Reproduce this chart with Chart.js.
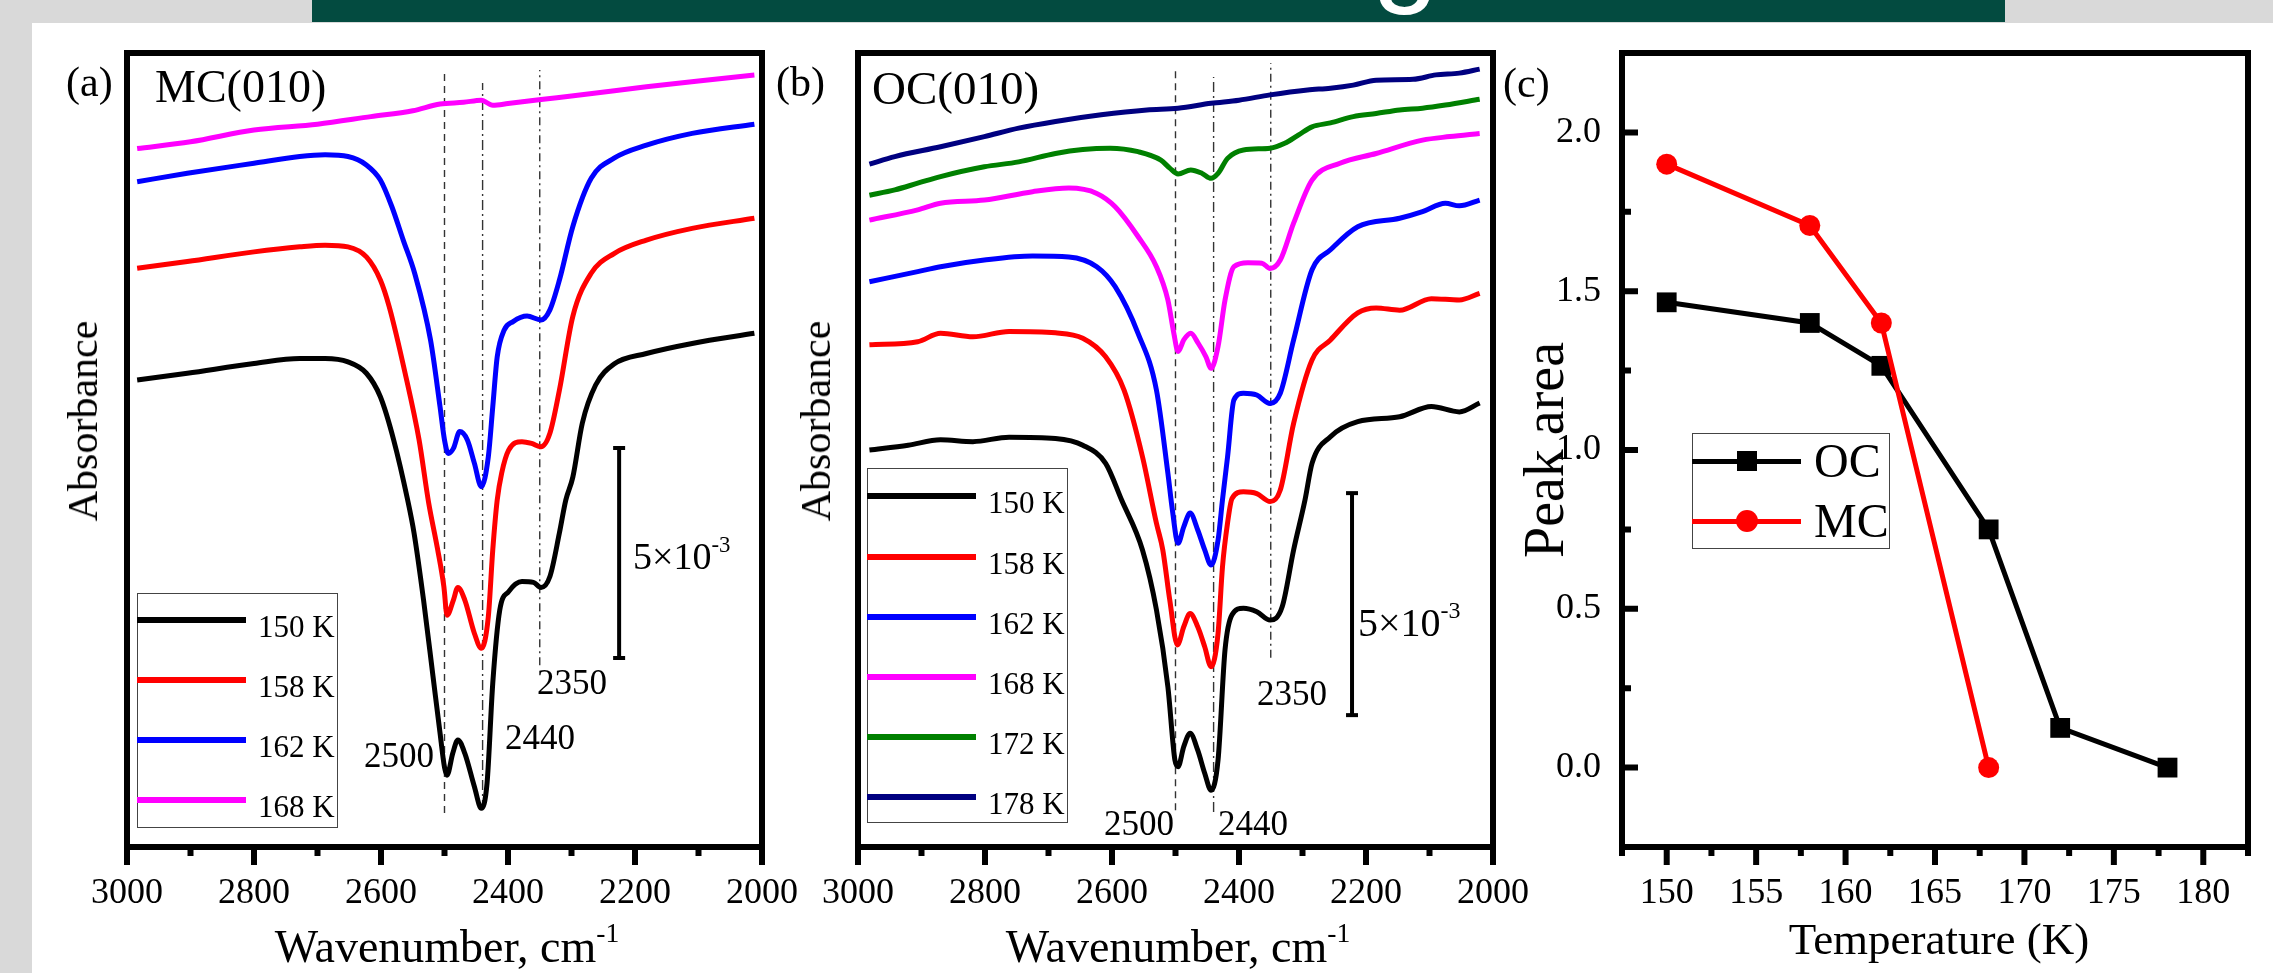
<!DOCTYPE html>
<html>
<head>
<meta charset="utf-8">
<script src="https://cdn.jsdelivr.net/npm/chart.js@4.4.1/dist/chart.umd.min.js"></script>
<style>
  body { margin: 0; width: 2273px; height: 973px; position: relative; overflow: hidden;
         background: #d9d9d9; font-family: "Liberation Serif", "Times New Roman", serif; }
  #paper { position: absolute; left: 32px; top: 23px; right: 0; bottom: 0; background: #fff; }
  #banner { position: absolute; left: 312px; top: 0; width: 1693px; height: 22px;
            background: #034b40; overflow: hidden; }
  #banner span { position: absolute; left: 1060px; top: -112px; font: 120px/1 "Liberation Sans", sans-serif; color: #fff; }
  canvas { position: absolute; left: 0; top: 0; }
  .t { position: absolute; white-space: nowrap; line-height: 1; color: #000; }
  .t sup { font-size: 0.6em; position: relative; top: -0.75em; vertical-align: baseline; line-height: 0; }
  .box { position: absolute; border: 1.5px solid #444; box-sizing: border-box; }
  .sw { position: absolute; }
</style>
</head>
<body>
<div id="paper"></div>
<div id="banner"><span>g</span></div>
<canvas id="chartA" width="2273" height="973"></canvas>
<canvas id="chartB" width="2273" height="973"></canvas>
<canvas id="chartC" width="2273" height="973"></canvas>
<script>
  // ---- (a) MC(010): [wavenumber, absorbance x1e-3 with offset] ----
  const mc150 = [[2984,11.12],[2905,11.28],[2800,11.51],[2728,11.63],[2688,11.63],[2652,11.55],[2623,11.28],[2601,10.72],[2580,9.69],[2558,8.26],[2548,7.48],[2533,5.88],[2518,4.05],[2507,2.71],[2500,1.90],[2496,1.71],[2487,2.23],[2479,2.55],[2468,2.23],[2453,1.44],[2442,0.92],[2433,1.52],[2424,3.90],[2413,5.64],[2399,6.08],[2378,6.32],[2360,6.30],[2348,6.18],[2334,6.44],[2319,7.48],[2309,8.26],[2298,8.8],[2283,10.09],[2262,11.0],[2233,11.5],[2182,11.75],[2110,11.99],[2012,12.23]];
  const mc158 = [[2984,13.78],[2905,13.94],[2800,14.17],[2728,14.29],[2688,14.33],[2652,14.29],[2623,14.05],[2601,13.50],[2587,12.86],[2562,11.28],[2540,9.69],[2525,8.2],[2511,7.1],[2501,6.2],[2496,5.52],[2486,5.88],[2479,6.18],[2468,5.88],[2453,5.09],[2442,4.73],[2431,5.48],[2424,7.07],[2417,8.26],[2410,8.90],[2399,9.45],[2378,9.65],[2363,9.61],[2348,9.53],[2334,9.85],[2319,10.88],[2298,12.63],[2269,13.66],[2233,14.13],[2182,14.45],[2110,14.73],[2012,14.97]];
  const mc162 = [[2984,15.84],[2905,16.04],[2800,16.28],[2728,16.44],[2688,16.48],[2652,16.44],[2623,16.24],[2601,15.88],[2583,15.25],[2565,14.45],[2547,13.66],[2522,12.07],[2507,10.48],[2500,9.69],[2494,9.37],[2486,9.49],[2476,9.89],[2464,9.69],[2453,9.14],[2442,8.58],[2431,9.29],[2424,10.48],[2417,11.67],[2406,12.31],[2392,12.51],[2370,12.64],[2348,12.55],[2334,12.79],[2319,13.50],[2298,14.77],[2269,15.92],[2233,16.40],[2182,16.71],[2110,16.99],[2012,17.21]];
  const mc168 = [[2984,16.63],[2900,16.79],[2800,17.07],[2700,17.21],[2616,17.39],[2550,17.53],[2507,17.69],[2470,17.73],[2442,17.78],[2424,17.66],[2400,17.70],[2348,17.80],[2300,17.88],[2182,18.10],[2100,18.24],[2012,18.38]];

  // ---- (b) OC(010) ----
  const oc150 = [[2982,8.94],[2921,9.05],[2870,9.17],[2819,9.13],[2762,9.23],[2689,9.20],[2646,9.05],[2610,8.64],[2585,7.82],[2552,6.69],[2530,5.34],[2512,3.61],[2501,1.96],[2496,1.81],[2487,2.26],[2477,2.56],[2465,2.18],[2454,1.66],[2444,1.28],[2433,1.96],[2422,4.44],[2411,5.23],[2393,5.38],[2372,5.30],[2351,5.11],[2332,5.41],[2314,6.69],[2296,7.82],[2285,8.64],[2256,9.24],[2213,9.58],[2147,9.69],[2097,9.92],[2053,9.80],[2021,10.0]];
  const oc158 = [[2982,11.31],[2906,11.38],[2870,11.57],[2819,11.49],[2762,11.61],[2689,11.58],[2646,11.46],[2610,11.04],[2581,10.29],[2552,8.79],[2530,7.29],[2520,6.69],[2509,5.56],[2497,4.55],[2487,4.96],[2477,5.26],[2465,4.96],[2454,4.51],[2444,4.06],[2433,4.81],[2426,6.31],[2418,7.3],[2411,7.85],[2393,8.00],[2372,7.96],[2351,7.78],[2335,8.04],[2314,9.54],[2285,10.97],[2256,11.42],[2213,12.03],[2184,12.14],[2147,12.09],[2097,12.35],[2053,12.32],[2021,12.47]];
  const oc162 = [[2982,12.73],[2906,12.96],[2870,13.07],[2801,13.22],[2725,13.31],[2668,13.29],[2624,13.07],[2595,12.62],[2559,11.57],[2530,10.29],[2512,8.42],[2505,7.6],[2496,6.84],[2487,7.21],[2477,7.52],[2465,7.14],[2454,6.69],[2444,6.35],[2433,6.91],[2426,7.82],[2418,8.79],[2408,10.07],[2393,10.22],[2372,10.18],[2351,9.99],[2335,10.22],[2314,11.42],[2285,13.0],[2256,13.45],[2213,13.97],[2147,14.16],[2111,14.31],[2075,14.50],[2053,14.44],[2021,14.57]];
  const oc168 = [[2982,14.12],[2906,14.35],[2870,14.50],[2801,14.57],[2725,14.76],[2668,14.84],[2624,14.72],[2595,14.42],[2559,13.75],[2530,13.07],[2512,12.32],[2503,11.6],[2496,11.16],[2487,11.42],[2476,11.57],[2464,11.34],[2452,11.04],[2444,10.78],[2433,11.27],[2422,12.32],[2408,13.07],[2386,13.16],[2364,13.15],[2351,13.03],[2335,13.22],[2314,14.05],[2285,15.02],[2241,15.40],[2184,15.62],[2111,15.92],[2068,16.00],[2021,16.07]];
  const oc172 = [[2982,14.68],[2942,14.80],[2906,14.95],[2870,15.10],[2801,15.32],[2747,15.43],[2689,15.62],[2646,15.71],[2603,15.74],[2559,15.66],[2523,15.47],[2509,15.29],[2496,15.16],[2476,15.25],[2458,15.17],[2444,15.06],[2433,15.17],[2418,15.51],[2393,15.70],[2351,15.74],[2328,15.85],[2306,16.04],[2285,16.22],[2256,16.31],[2220,16.45],[2184,16.52],[2147,16.60],[2111,16.64],[2075,16.71],[2021,16.84]];
  const oc178 = [[2982,15.38],[2942,15.55],[2870,15.77],[2801,16.00],[2747,16.19],[2689,16.34],[2617,16.49],[2545,16.60],[2496,16.64],[2444,16.75],[2400,16.82],[2351,16.94],[2292,17.05],[2256,17.09],[2220,17.16],[2184,17.27],[2126,17.29],[2090,17.39],[2053,17.43],[2021,17.52]];

  // peak marker lines (cm-1) and their vertical extent in each panel
  const peakLines = [2500, 2440, 2350];
  const peakTopA = [18.43, 18.19, 18.5], peakBotA = [0.81, 0.88, 4.33];
  const peakTopB = [17.55, 17.34, 17.66], peakBotB = [0.83, 0.79, 4.26];
  // 5x10^-3 scale bar: [wavenumber, from, to]
  const barA = [2225, 4.5, 9.5];
  const barB = [2222, 2.97, 7.97];

  // ---- (c) peak area vs temperature ----
  const tempOC = [150, 158, 162, 168, 172, 178];
  const areaOC = [1.465, 1.40, 1.265, 0.75, 0.125, 0.0];
  const tempMC = [150, 158, 162, 168];
  const areaMC = [1.90, 1.707, 1.40, 0.0];

  const wnLabels = [3000, 2800, 2600, 2400, 2200, 2000];
  const tempLabels = [150, 155, 160, 165, 170, 175, 180];
  const areaLabels = [0, 0.5, 1, 1.5, 2];

  const serif = '"Liberation Serif", "Times New Roman", serif';

  // frame + outward x ticks (+ inward y ticks for panel c)
  const frame = {
    id: 'frame',
    afterDatasetsDraw(chart, args, opts) {
      const { ctx, chartArea: a } = chart;
      const x = chart.scales.x, y = chart.scales.y;
      ctx.save();
      ctx.strokeStyle = '#000';
      ctx.lineWidth = 6;
      ctx.beginPath();
      x.ticks.forEach(t => {
        const px = x.getPixelForValue(t.value);
        ctx.moveTo(px, a.bottom);
        ctx.lineTo(px, a.bottom + (t.label !== '' ? 18 : 9));
      });
      if (opts.yTicks) {
        y.ticks.forEach(t => {
          const py = y.getPixelForValue(t.value);
          ctx.moveTo(a.left, py);
          ctx.lineTo(a.left + (t.label !== '' ? 16 : 9), py);
        });
      }
      ctx.stroke();
      ctx.strokeRect(a.left, a.top, a.right - a.left, a.bottom - a.top);
      ctx.restore();
    }
  };

  const dashes = [[7, 5], [10, 4, 2, 4], [8, 4, 2, 4]];

  function spectrumChart(id, series, left, yMax, tops, bots, bar) {
    const datasets = series.map(s => ({
      data: s.pts.map(p => ({ x: p[0], y: p[1] })),
      borderColor: s.color, borderWidth: 5, pointRadius: 0,
      cubicInterpolationMode: 'monotone', fill: false
    }));
    peakLines.forEach((wn, i) => datasets.push({
      data: [{ x: wn, y: bots[i] }, { x: wn, y: tops[i] }],
      borderColor: '#333', borderWidth: 1.4, borderDash: dashes[i], pointRadius: 0
    }));
    datasets.push({
      data: [{ x: bar[0], y: bar[1] }, { x: bar[0], y: bar[2] }],
      borderColor: '#000', borderWidth: 4, pointStyle: 'line',
      pointRadius: 6, pointBorderWidth: 4, pointBorderColor: '#000'
    });
    new Chart(document.getElementById(id), {
      type: 'line',
      data: { datasets },
      options: {
        responsive: false, animation: false,
        layout: { padding: { left: left, right: 2273 - left - 635, top: 53, bottom: 0 } },
        plugins: { legend: { display: false }, tooltip: { enabled: false }, frame: {} },
        scales: {
          x: {
            type: 'linear', reverse: true, min: 2000, max: 3000,
            grid: { display: false, drawTicks: false }, border: { display: false },
            ticks: {
              stepSize: 100, autoSkip: false, maxRotation: 0, padding: 25, color: '#000',
              font: { family: serif, size: 36 },
              callback: v => wnLabels.includes(v) ? String(v) : ''
            },
            afterFit: s => { s.height = 126; }
          },
          y: { display: false, min: 0, max: yMax }
        }
      },
      plugins: [frame]
    });
  }

  const seriesA = [
    { name: '150 K', color: '#000000', pts: mc150 },
    { name: '158 K', color: '#ff0000', pts: mc158 },
    { name: '162 K', color: '#0000ff', pts: mc162 },
    { name: '168 K', color: '#ff00ff', pts: mc168 }
  ];
  const seriesB = [
    { name: '150 K', color: '#000000', pts: oc150 },
    { name: '158 K', color: '#ff0000', pts: oc158 },
    { name: '162 K', color: '#0000ff', pts: oc162 },
    { name: '168 K', color: '#ff00ff', pts: oc168 },
    { name: '172 K', color: '#008000', pts: oc172 },
    { name: '178 K', color: '#000080', pts: oc178 }
  ];

  spectrumChart('chartA', seriesA, 127, 794 / 42, peakTopA, peakBotA, barA);
  spectrumChart('chartB', seriesB, 858, 794 / 44.4, peakTopB, peakBotB, barB);

  new Chart(document.getElementById('chartC'), {
    type: 'line',
    data: {
      datasets: [
        {
          label: 'MC', data: tempMC.map((t, i) => ({ x: t, y: areaMC[i] })),
          borderColor: '#ff0000', backgroundColor: '#ff0000', borderWidth: 5,
          pointStyle: 'circle', pointRadius: 10.5, pointBorderWidth: 0
        },
        {
          label: 'OC', data: tempOC.map((t, i) => ({ x: t, y: areaOC[i] })),
          borderColor: '#000000', backgroundColor: '#000000', borderWidth: 5,
          pointStyle: 'rect', pointRadius: 14, pointBorderWidth: 0
        }
      ]
    },
    options: {
      responsive: false, animation: false,
      layout: { padding: { left: 1522, right: 16, top: 53, bottom: 0 } },
      plugins: { legend: { display: false }, tooltip: { enabled: false }, frame: { yTicks: true } },
      scales: {
        x: {
          type: 'linear', min: 147.5, max: 182.5,
          grid: { display: false, drawTicks: false }, border: { display: false },
          ticks: {
            stepSize: 2.5, autoSkip: false, maxRotation: 0, padding: 25, color: '#000',
            font: { family: serif, size: 36 },
            callback: v => tempLabels.includes(v) ? String(v) : ''
          },
          afterFit: s => { s.height = 126; }
        },
        y: {
          min: -0.25, max: 2.25,
          grid: { display: false, drawTicks: false }, border: { display: false },
          ticks: {
            stepSize: 0.25, autoSkip: false, padding: 21, color: '#000',
            font: { family: serif, size: 36 },
            callback: v => areaLabels.some(l => Math.abs(l - v) < 1e-9) ? v.toFixed(1) : ''
          },
          afterFit: s => { s.width = 100; }
        }
      }
    },
    plugins: [frame]
  });

  // ---- text and legends ----
  function text(html, x, base, size, center) {
    const d = document.createElement('div');
    d.className = 't';
    d.innerHTML = html;
    d.style.fontSize = size + 'px';
    d.style.left = x + 'px';
    d.style.top = (base - 0.8375 * size) + 'px';
    if (center) d.style.transform = 'translateX(-50%)';
    document.body.appendChild(d);
  }
  function vtext(str, cx, cy, size) {
    const d = document.createElement('div');
    d.className = 't';
    d.textContent = str;
    d.style.fontSize = size + 'px';
    d.style.left = cx + 'px';
    d.style.top = cy + 'px';
    d.style.transform = 'translate(-50%,-50%) rotate(-90deg)';
    document.body.appendChild(d);
  }
  function el(cls, x, y, w, h, bg, extra) {
    const d = document.createElement('div');
    d.className = cls;
    Object.assign(d.style, { left: x + 'px', top: y + 'px', width: w + 'px', height: h + 'px' });
    if (bg) d.style.background = bg;
    if (extra) Object.assign(d.style, extra);
    document.body.appendChild(d);
  }

  text('(a)', 66, 96, 42);
  text('MC(010)', 155, 103, 46);
  text('(b)', 776, 96, 42);
  text('OC(010)', 872, 104, 47);
  text('(c)', 1503, 97, 42);

  vtext('Absorbance', 83, 421, 42);
  vtext('Absorbance', 816, 421, 42);
  vtext('Peak area', 1544, 450, 56);

  text('Wavenumber, cm<sup>-1</sup>', 447, 963, 46, true);
  text('Wavenumber, cm<sup>-1</sup>', 1178, 963, 46, true);
  text('Temperature (K)', 1939, 955, 45, true);

  // peak labels
  text(String(peakLines[0]), 364, 767, 35);
  text(String(peakLines[1]), 505, 749, 35);
  text(String(peakLines[2]), 537, 694, 35);
  text(String(peakLines[0]), 1104, 835, 35);
  text(String(peakLines[1]), 1218, 835, 35);
  text(String(peakLines[2]), 1257, 705, 35);

  text('5×10<sup>-3</sup>', 633, 569, 38);
  text('5×10<sup>-3</sup>', 1358, 636, 40);

  // spectra legends
  function specLegend(series, x, y, h, rows) {
    el('box', x, y, 201, h);
    series.forEach((s, i) => {
      el('sw', x, rows[i] - 3, 109, 6, s.color);
      text(s.name, x + 121, rows[i] + 17, 31);
    });
  }
  specLegend(seriesA, 137, 593, 235, [620, 680, 740, 800]);
  specLegend(seriesB, 867, 468, 355, [496, 557, 617, 677, 737, 797]);

  // panel (c) legend
  el('box', 1692, 433, 198, 116);
  el('sw', 1692, 459, 109, 5, '#000');
  el('sw', 1737, 451, 20, 20, '#000');
  text('OC', 1814, 477, 48);
  el('sw', 1692, 519, 109, 5, '#ff0000');
  el('sw', 1736, 510, 22, 22, '#ff0000', { borderRadius: '50%' });
  text('MC', 1814, 537, 48);
</script>
</body>
</html>
